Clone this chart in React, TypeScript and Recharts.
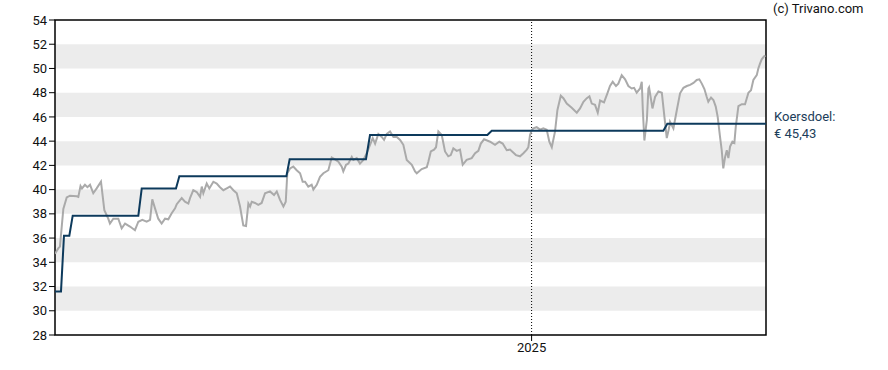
import React from "react";
import { LineChart, Line, XAxis, YAxis, ReferenceArea, ReferenceLine } from "recharts";

// Days since 2024-01-01 (calendar days)
const priceDays = [
  0, 2.5, 3.8, 6.4, 9.0, 11.5, 16.7, 17.9, 19.6, 20.7, 23.0, 24.9, 26.9, 29.4, 32.0, 35.3, 37.9, 40.9, 42.2, 44.8,
  48.6, 51.2, 53.8, 57.6, 61.4, 64.0, 67.0, 70.4, 73.0, 74.7, 76.8, 79.3, 81.9, 84.5, 87.0, 89.6, 92.2, 93.5, 97.3, 99.8,
  102.4, 103.7, 106.2, 108.8, 111.4, 112.7, 113.9, 116.5, 118.5, 121.6, 124.2, 126.7, 129.3, 131.9, 134.4, 137.0, 139.6, 142.1, 144.6, 146.7,
  148.5, 149.8, 151.1, 153.6, 156.1, 158.7, 161.3, 165.1, 168.2, 170.3, 172.8, 175.4, 177.2, 178.4, 180.5, 183.0, 185.6, 188.2, 190.2, 192.0,
  194.5, 197.1, 198.4, 201.0, 203.5, 206.1, 209.9, 212.5, 215.0, 217.6, 220.2, 221.4, 223.5, 225.3, 227.9, 229.1, 231.7, 234.2, 236.8, 239.4,
  241.9, 244.0, 245.8, 248.3, 250.9, 252.7, 254.8, 257.3, 259.9, 262.5, 265.0, 267.5, 270.1, 274.0, 276.5, 277.8, 281.6, 285.5, 286.7, 288.6,
  291.1, 292.6, 294.4, 297.0, 299.5, 302.0, 303.9, 305.9, 308.5, 311.0, 313.1, 316.1, 320.0, 322.6, 325.1, 327.0, 329.5, 334.1, 337.9, 341.2,
  343.8, 346.9, 349.4, 354.0, 357.1, 359.7, 362.3, 363.5, 364.8, 366.1, 367.3, 369.9, 372.5, 375.0, 377.6, 379.6, 381.5, 384.0, 385.8, 388.4,
  390.4, 393.0, 396.8, 400.7, 403.2, 405.8, 408.4, 410.4, 412.2, 414.7, 416.8, 418.6, 421.6, 424.2, 426.2, 428.3, 430.8, 432.6, 435.2, 437.8,
  440.3, 442.9, 444.7, 446.7, 449.3, 450.6, 451.4, 452.6, 454.5, 455.7, 456.2, 458.8, 460.8, 463.4, 466.0, 468.0, 469.8, 471.6, 472.3, 474.9,
  477.5, 480.0, 482.6, 485.2, 487.7, 490.3, 492.8, 494.8, 496.7, 498.7, 500.5, 501.7, 503.8, 505.6, 507.4, 508.9, 510.7, 512.0, 513.2, 514.6,
  515.9, 517.1, 518.4, 520.2, 521.7, 522.8, 524.8, 527.4, 529.9, 532.5, 534.5, 536.3, 538.9, 540.1, 541.4, 542.7, 544.5, 545.6,
];
const priceValues = [
  34.7, 35.15, 35.3, 38.4, 39.35, 39.5, 39.45, 39.4, 40.3, 40.1, 40.4, 40.2, 40.4, 39.7, 40.1, 40.65, 38.3, 37.6, 37.2, 37.6,
  37.6, 36.8, 37.2, 36.95, 36.65, 37.35, 37.5, 37.35, 37.5, 39.2, 38.45, 37.6, 37.2, 37.6, 37.55, 38.05, 38.45, 38.8, 39.3, 39.0,
  38.85, 39.3, 39.95, 39.8, 39.4, 40.25, 39.7, 40.5, 40.1, 40.65, 40.5, 40.2, 39.95, 40.1, 40.25, 39.95, 39.7, 38.6, 37.05, 37.0,
  38.85, 38.6, 39.0, 38.9, 38.75, 38.9, 39.7, 39.85, 39.55, 39.85, 39.15, 38.6, 39.0, 41.35, 41.75, 41.9, 41.6, 41.35, 40.65, 40.65,
  40.25, 40.4, 40.0, 40.4, 41.05, 41.35, 41.6, 42.65, 42.5, 42.3, 41.9, 41.5, 42.05, 42.15, 42.7, 42.45, 42.6, 42.15, 42.45, 43.0,
  43.7, 44.25, 43.8, 44.6, 44.35, 44.1, 44.6, 44.8, 44.35, 44.35, 44.1, 43.7, 42.45, 42.05, 41.5, 41.35, 41.7, 41.85, 42.3, 43.15,
  43.3, 43.5, 44.8, 44.5, 43.15, 42.75, 42.85, 43.4, 43.2, 43.3, 42.05, 42.45, 42.6, 43.0, 43.2, 43.8, 44.15, 43.95, 43.7, 43.95,
  43.8, 43.25, 43.3, 42.85, 42.75, 43.0, 43.3, 43.5, 44.5, 44.9, 45.05, 45.15, 44.95, 45.05, 44.95, 43.95, 43.5, 44.8, 46.55, 47.75,
  47.55, 47.1, 46.75, 46.35, 46.7, 47.25, 47.55, 47.7, 47.1, 47.0, 46.35, 47.35, 47.2, 47.95, 48.55, 48.9, 48.55, 48.75, 49.45, 49.1,
  48.55, 48.35, 48.4, 48.0, 48.35, 48.9, 46.6, 44.05, 45.75, 48.35, 48.45, 46.7, 47.65, 48.1, 48.0, 46.0, 44.25, 45.1, 45.6, 45.05,
  46.55, 47.95, 48.4, 48.55, 48.65, 48.8, 49.05, 49.1, 48.75, 48.3, 47.65, 47.25, 47.6, 47.4, 46.85, 46.0, 44.35, 43.25, 41.75, 42.7,
  43.25, 42.6, 43.55, 43.95, 43.85, 45.2, 46.9, 47.05, 47.05, 48.0, 48.2, 49.05, 49.45, 50.0, 50.4, 50.75, 51.0, 51.05,
];

const targetDays = [0, 4.6, 6.9, 11, 13.6, 64, 66.6, 92.9, 95.5, 177.7, 180.2, 238.8, 241.9, 332, 335.4, 467.2, 470.2, 546];
const targetValues = [31.6, 31.6, 36.2, 36.2, 37.85, 37.85, 40.1, 40.1, 41.1, 41.1, 42.5, 42.5, 44.5, 44.5, 44.85, 44.85, 45.43, 45.43];

const yTicks = [28, 30, 32, 34, 36, 38, 40, 42, 44, 46, 48, 50, 52, 54];
const bandPairs = [[30, 32], [34, 36], [38, 40], [42, 44], [46, 48], [50, 52]];
const xTicks = [366];
const xTickLabels: Record<number, string> = { 366: "2025" };
const X_MAX = 546;

const priceData = priceDays.map((d, i) => ({ day: d, price: priceValues[i] }));
const targetData = targetDays.map((d, i) => ({ day: d, target: targetValues[i] }));

const FONT = "Roboto, 'Liberation Sans', Arial, sans-serif";

export default function App() {
  return (
    <div style={{ position: "absolute", left: 0, top: 0, width: 888, height: 370, background: "#fff" }}>
      <LineChart width={888} height={370} margin={{ top: 20, right: 122, bottom: 0, left: 0 }}>
        <XAxis
          type="number"
          dataKey="day"
          domain={[0, X_MAX]}
          ticks={xTicks}
          tickFormatter={(v: number) => xTickLabels[v] ?? ""}
          axisLine={false}
          tickLine={{ stroke: "#000" }}
          tickSize={6}
          tick={{ fill: "#111", fontSize: 13, fontFamily: FONT }}
          height={35}
          allowDataOverflow
        />
        <YAxis
          type="number"
          domain={[28, 54]}
          ticks={yTicks}
          axisLine={false}
          tickLine={{ stroke: "#000" }}
          tickSize={6}
          tick={{ fill: "#111", fontSize: 13, fontFamily: FONT }}
          width={55}
          interval={0}
          allowDataOverflow
        />
        {bandPairs.map(([a, b]) => (
          <ReferenceArea key={a} x1={0} x2={X_MAX} y1={a} y2={b} fill="#ececec" fillOpacity={1} stroke="none" />
        ))}
        <ReferenceLine x={366} stroke="#000" strokeDasharray="1 2" strokeWidth={1} />
        <Line
          data={priceData}
          dataKey="price"
          type="linear"
          stroke="#aaaaaa"
          strokeWidth={2}
          dot={false}
          isAnimationActive={false}
        />
        <Line
          data={targetData}
          dataKey="target"
          type="linear"
          stroke="#0d3a5c"
          strokeWidth={2}
          dot={false}
          isAnimationActive={false}
        />
        <ReferenceArea x1={0} x2={X_MAX} y1={28} y2={54} fill="none" stroke="#000" strokeWidth={1.5} />
      </LineChart>
      <svg width={888} height={370} style={{ position: "absolute", left: 0, top: 0, pointerEvents: "none" }}>
        <text x={773} y={13} fontSize={13} fontFamily={FONT} fill="#111">(c) Trivano.com</text>
        <text x={774} y={121} fontSize={13} fontFamily={FONT} fill="#1c3d5a">Koersdoel:</text>
        <text x={774} y={138} fontSize={13} fontFamily={FONT} fill="#1c3d5a">€ 45,43</text>
      </svg>
    </div>
  );
}
